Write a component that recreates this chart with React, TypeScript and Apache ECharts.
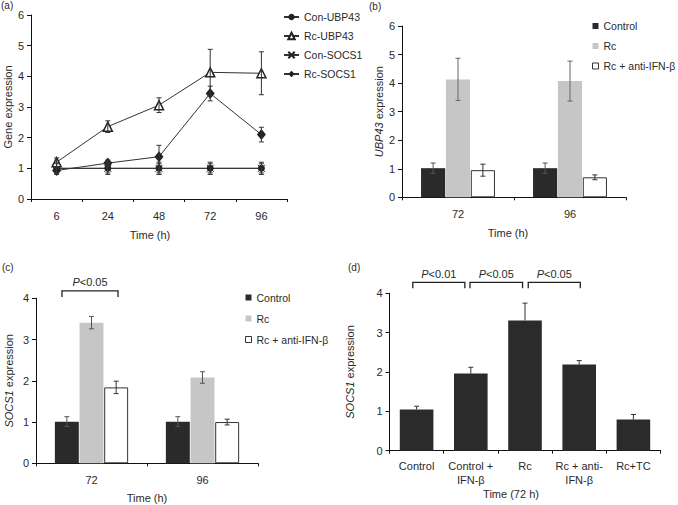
import React, { useEffect, useRef } from "react";
import * as echarts from "echarts";

// ---------- Data ----------
const timesA = ["6", "24", "48", "72", "96"];
const conUBP43 = [1, 1, 1, 1, 1];
const conUBP43Err = [0.15, 0.15, 0.15, 0.15, 0.15];
const rcUBP43 = [1.2, 2.36, 3.06, 4.13, 4.1];
const rcUBP43Err = [0.14, 0.19, 0.24, 0.75, 0.7];
const conSOCS1 = [1, 1, 1, 1, 1];
const conSOCS1Err = [0.2, 0.2, 0.2, 0.2, 0.2];
const rcSOCS1 = [0.93, 1.17, 1.38, 3.44, 2.1];
const rcSOCS1Err = [0.08, 0.1, 0.37, 0.24, 0.24];

const timesBC = ["72", "96"];
const ubpControl = [1.02, 1.02];
const ubpControlErr = [0.18, 0.18];
const ubpRc = [4.13, 4.07];
const ubpRcErr = [0.74, 0.7];
const ubpAnti = [0.95, 0.7];
const ubpAntiErr = [0.21, 0.085];

const socsControl = [1.01, 1.01];
const socsControlErr = [0.12, 0.12];
const socsRc = [3.41, 2.08];
const socsRcErr = [0.15, 0.14];
const socsAnti = [1.84, 1.0];
const socsAntiErr = [0.15, 0.07];

const groupsD = ["Control", "Control +\nIFN-β", "Rc", "Rc + anti-\nIFN-β", "Rc+TC"];
const socsD = [1.05, 1.96, 3.31, 2.19, 0.79];
const socsDErr = [0.08, 0.16, 0.44, 0.1, 0.13];

// significance brackets (span in category units relative to first category centre)
const bracketsC = [{ level: 4.18, bottom: 4.03, from: -0.266, to: 0.239, labelLevel: 4.4, text: "{i|P}<0.05" }];
const bracketsD = [
  { level: 4.28, bottom: 4.13, from: -0.07, to: 0.89, labelLevel: 4.49, text: "{i|P}<0.01" },
  { level: 4.28, bottom: 4.13, from: 0.985, to: 1.955, labelLevel: 4.49, text: "{i|P}<0.05" },
  { level: 4.28, bottom: 4.13, from: 2.06, to: 3.02, labelLevel: 4.49, text: "{i|P}<0.05" },
];

const FONT = "'Liberation Sans', Arial, Helvetica, sans-serif";
const TXT = "#2a2a2a";

function errRender(idx: number, n: number, gapR: number, catGapR: number, color: string, cap: number, upOnly: boolean) {
  return (params: any, api: any) => {
    const x = api.value(0);
    const v = api.value(1);
    const e = api.value(2);
    const base = api.coord([x, v]);
    const top = api.coord([x, v + e]);
    const bot = api.coord([x, v - e]);
    const W = api.size([1, 0])[0];
    let off = 0;
    if (n > 1) {
      const b = (W * (1 - catGapR)) / (n + (n - 1) * gapR);
      off = (idx - (n - 1) / 2) * b * (1 + gapR);
    }
    const cx = base[0] + off;
    const y2 = upOnly ? base[1] : bot[1];
    const st = { stroke: color, lineWidth: 1 };
    const children: any[] = [
      { type: "line", shape: { x1: cx, y1: top[1], x2: cx, y2 }, style: st },
      { type: "line", shape: { x1: cx - cap / 2, y1: top[1], x2: cx + cap / 2, y2: top[1] }, style: st },
    ];
    if (!upOnly) {
      children.push({ type: "line", shape: { x1: cx - cap / 2, y1: bot[1], x2: cx + cap / 2, y2: bot[1] }, style: st });
    }
    return { type: "group", children };
  };
}

function makeBracketRender(arr: any[]) {
  return (params: any, api: any) => {
    const b = arr[params.dataIndex];
    const c0 = api.coord([0, b.level]);
    const cb = api.coord([0, b.bottom]);
    const cl = api.coord([0, b.labelLevel]);
    const W = api.size([1, 0])[0];
    const x1 = c0[0] + b.from * W;
    const x2 = c0[0] + b.to * W;
    return {
      type: "group",
      children: [
        {
          type: "polyline",
          shape: { points: [[x1, cb[1]], [x1, c0[1]], [x2, c0[1]], [x2, cb[1]]] },
          style: { stroke: "#222", lineWidth: 1.3, fill: null },
        },
        {
          type: "text",
          x: (x1 + x2) / 2,
          y: cl[1],
          style: {
            text: b.text,
            fill: TXT,
            fontSize: 11,
            fontFamily: FONT,
            align: "center",
            verticalAlign: "middle",
            rich: { i: { fontStyle: "italic", fontSize: 11, fontFamily: FONT, fill: TXT } },
          },
        },
      ],
    };
  };
}

function catAxis(gridIndex: number, data: string[], name: string, nameGap: number, padRight: number, labelMargin: number) {
  return {
    type: "category",
    gridIndex,
    data,
    name,
    nameLocation: "middle",
    nameGap,
    nameTextStyle: { fontSize: 11, fontFamily: FONT, color: TXT, padding: [0, padRight, 0, 0] },
    axisLine: { lineStyle: { color: "#111", width: 1 } },
    axisTick: { show: true, length: 3, alignWithLabel: false, lineStyle: { color: "#111" } },
    axisLabel: { fontSize: 11, fontFamily: FONT, color: TXT, margin: labelMargin, interval: 0, lineHeight: 14 },
    splitLine: { show: false },
  };
}

function valAxis(gridIndex: number, max: number, name: string, nameGap: number) {
  return {
    type: "value",
    gridIndex,
    min: 0,
    max,
    interval: 1,
    name,
    nameLocation: "middle",
    nameGap,
    nameTextStyle: {
      fontSize: 11,
      fontFamily: FONT,
      color: TXT,
      rich: { i: { fontStyle: "italic", fontSize: 11, fontFamily: FONT, color: TXT } },
    },
    axisLine: { show: true, lineStyle: { color: "#111", width: 1 } },
    axisTick: { show: true, length: 4, lineStyle: { color: "#111" } },
    axisLabel: { fontSize: 11, fontFamily: FONT, color: TXT, margin: 7 },
    splitLine: { show: false },
  };
}

const toErr = (vals: number[], errs: number[]) => vals.map((v, i) => [i, v, errs[i]]);

export default function App() {
  const ref = useRef<HTMLDivElement>(null);
  useEffect(() => {
    if (!ref.current) return;
    const chart = echarts.init(ref.current, undefined, { renderer: "svg" });
    const crossPath = "path://M0,0L10,10M10,0L0,10";
    const lineStyleA = { color: "#333", width: 1 };
    const catGapBC = 0.34;
    const barGapBC = 0.03;
    const catGapD = 0.38;
    const whiteItem = { color: "#fff", borderColor: "#333", borderWidth: 1 };
    const barLegendData = [{ name: "Control" }, { name: "Rc" }, { name: "Rc + anti-IFN-β", itemStyle: whiteItem }];
    const titleStyle = { fontSize: 10, fontWeight: "normal", color: TXT, fontFamily: FONT };

    const option: any = {
      animation: false,
      backgroundColor: "#fff",
      textStyle: { fontFamily: FONT },
      title: [
        { text: "(a)", left: 1, top: 0, padding: 0, textStyle: titleStyle },
        { text: "(b)", left: 369, top: 1, padding: 0, textStyle: titleStyle },
        { text: "(c)", left: 2, top: 262, padding: 0, textStyle: titleStyle },
        { text: "(d)", left: 348, top: 262, padding: 0, textStyle: titleStyle },
      ],
      grid: [
        { left: 31, top: 15, width: 256, height: 184 },
        { left: 402, top: 26, width: 224, height: 171.3 },
        { left: 36, top: 298.3, width: 222, height: 165 },
        { left: 389.5, top: 293.3, width: 271, height: 157.4 },
      ],
      legend: [
        {
          orient: "vertical",
          left: 283,
          top: 11.5,
          padding: 0,
          itemWidth: 15,
          itemHeight: 8,
          itemGap: 8,
          textStyle: { fontSize: 10.5, fontFamily: FONT, color: TXT, lineHeight: 10 },
          data: ["Con-UBP43", "Rc-UBP43", "Con-SOCS1", "Rc-SOCS1"],
        },
        {
          orient: "vertical",
          left: 592,
          top: 20,
          padding: 0,
          itemWidth: 6,
          itemHeight: 6,
          itemGap: 8,
          icon: "rect",
          textStyle: { fontSize: 10.5, fontFamily: FONT, color: TXT, lineHeight: 12 },
          data: barLegendData,
        },
        {
          orient: "vertical",
          left: 245,
          top: 291.5,
          padding: 0,
          itemWidth: 6,
          itemHeight: 6,
          itemGap: 9,
          icon: "rect",
          textStyle: { fontSize: 10.5, fontFamily: FONT, color: TXT, lineHeight: 12 },
          data: barLegendData,
        },
      ],
      xAxis: [
        catAxis(0, timesA, "Time (h)", 30, 18, 10),
        catAxis(1, timesBC, "Time (h)", 30, 12, 10),
        catAxis(2, timesBC, "Time (h)", 29, 0, 10),
        catAxis(3, groupsD, "Time (72 h)", 38, 28, 8),
      ],
      yAxis: [
        valAxis(0, 6, "Gene expression", 17),
        valAxis(1, 6, "{i|UBP43} expression", 16),
        valAxis(2, 4, "{i|SOCS1} expression", 22),
        valAxis(3, 4, "{i|SOCS1} expression", 34),
      ],
      series: [
        // ---- (a) ----
        {
          name: "Con-UBP43", type: "line", xAxisIndex: 0, yAxisIndex: 0, data: conUBP43,
          symbol: "circle", symbolSize: 7, lineStyle: lineStyleA, itemStyle: { color: "#222" }, z: 3,
        },
        {
          name: "Rc-UBP43", type: "line", xAxisIndex: 0, yAxisIndex: 0, data: rcUBP43,
          symbol: "triangle", symbolSize: 9, lineStyle: lineStyleA,
          itemStyle: { color: "#fff", borderColor: "#222", borderWidth: 1.5 }, z: 4,
        },
        {
          name: "Con-SOCS1", type: "line", xAxisIndex: 0, yAxisIndex: 0, data: conSOCS1,
          symbol: crossPath, symbolSize: 7, lineStyle: lineStyleA,
          itemStyle: { color: "#222", borderColor: "#222", borderWidth: 1 }, z: 3,
        },
        {
          name: "Rc-SOCS1", type: "line", xAxisIndex: 0, yAxisIndex: 0, data: rcSOCS1,
          symbol: "diamond", symbolSize: [9, 11], lineStyle: lineStyleA, itemStyle: { color: "#222" }, z: 3,
        },
        { type: "custom", xAxisIndex: 0, yAxisIndex: 0, data: toErr(conUBP43, conUBP43Err), encode: { x: 0, y: 1 }, renderItem: errRender(0, 1, 0, 0, "#333", 5, false), z: 5 },
        { type: "custom", xAxisIndex: 0, yAxisIndex: 0, data: toErr(rcUBP43, rcUBP43Err), encode: { x: 0, y: 1 }, renderItem: errRender(0, 1, 0, 0, "#333", 5, false), z: 5 },
        { type: "custom", xAxisIndex: 0, yAxisIndex: 0, data: toErr(conSOCS1, conSOCS1Err), encode: { x: 0, y: 1 }, renderItem: errRender(0, 1, 0, 0, "#333", 5, false), z: 5 },
        { type: "custom", xAxisIndex: 0, yAxisIndex: 0, data: toErr(rcSOCS1, rcSOCS1Err), encode: { x: 0, y: 1 }, renderItem: errRender(0, 1, 0, 0, "#333", 5, false), z: 5 },

        // ---- (b) ----
        { name: "Control", type: "bar", xAxisIndex: 1, yAxisIndex: 1, data: ubpControl, itemStyle: { color: "#2a2a2a" }, barCategoryGap: "34%", barGap: "3%" },
        { name: "Rc", type: "bar", xAxisIndex: 1, yAxisIndex: 1, data: ubpRc, itemStyle: { color: "#c6c6c6" }, barCategoryGap: "34%", barGap: "3%" },
        { name: "Rc + anti-IFN-β", type: "bar", xAxisIndex: 1, yAxisIndex: 1, data: ubpAnti, itemStyle: whiteItem, barCategoryGap: "34%", barGap: "3%" },
        { type: "custom", xAxisIndex: 1, yAxisIndex: 1, data: toErr(ubpControl, ubpControlErr), encode: { x: 0, y: 1 }, renderItem: errRender(0, 3, barGapBC, catGapBC, "#555", 5, false), z: 5 },
        { type: "custom", xAxisIndex: 1, yAxisIndex: 1, data: toErr(ubpRc, ubpRcErr), encode: { x: 0, y: 1 }, renderItem: errRender(1, 3, barGapBC, catGapBC, "#666", 5, false), z: 5 },
        { type: "custom", xAxisIndex: 1, yAxisIndex: 1, data: toErr(ubpAnti, ubpAntiErr), encode: { x: 0, y: 1 }, renderItem: errRender(2, 3, barGapBC, catGapBC, "#333", 5, false), z: 5 },

        // ---- (c) ----
        { name: "Control", type: "bar", xAxisIndex: 2, yAxisIndex: 2, data: socsControl, itemStyle: { color: "#2a2a2a" }, barCategoryGap: "34%", barGap: "3%" },
        { name: "Rc", type: "bar", xAxisIndex: 2, yAxisIndex: 2, data: socsRc, itemStyle: { color: "#c6c6c6" }, barCategoryGap: "34%", barGap: "3%" },
        { name: "Rc + anti-IFN-β", type: "bar", xAxisIndex: 2, yAxisIndex: 2, data: socsAnti, itemStyle: whiteItem, barCategoryGap: "34%", barGap: "3%" },
        { type: "custom", xAxisIndex: 2, yAxisIndex: 2, data: toErr(socsControl, socsControlErr), encode: { x: 0, y: 1 }, renderItem: errRender(0, 3, barGapBC, catGapBC, "#555", 5, false), z: 5 },
        { type: "custom", xAxisIndex: 2, yAxisIndex: 2, data: toErr(socsRc, socsRcErr), encode: { x: 0, y: 1 }, renderItem: errRender(1, 3, barGapBC, catGapBC, "#555", 5, false), z: 5 },
        { type: "custom", xAxisIndex: 2, yAxisIndex: 2, data: toErr(socsAnti, socsAntiErr), encode: { x: 0, y: 1 }, renderItem: errRender(2, 3, barGapBC, catGapBC, "#333", 5, false), z: 5 },
        {
          type: "custom", xAxisIndex: 2, yAxisIndex: 2, data: bracketsC.map((b) => [0, b.level]), encode: { x: 0, y: 1 },
          renderItem: makeBracketRender(bracketsC), z: 6, clip: false, silent: true,
        },

        // ---- (d) ----
        { type: "bar", xAxisIndex: 3, yAxisIndex: 3, data: socsD, itemStyle: { color: "#2b2b2b" }, barCategoryGap: "38%" },
        { type: "custom", xAxisIndex: 3, yAxisIndex: 3, data: toErr(socsD, socsDErr), encode: { x: 0, y: 1 }, renderItem: errRender(0, 1, 0, catGapD, "#333", 5, true), z: 5 },
        {
          type: "custom", xAxisIndex: 3, yAxisIndex: 3, data: bracketsD.map((b) => [0, b.level]), encode: { x: 0, y: 1 },
          renderItem: makeBracketRender(bracketsD), z: 6, clip: false, silent: true,
        },
      ],
    };
    chart.setOption(option);
    return () => chart.dispose();
  }, []);
  return (
    <div
      ref={ref}
      style={{ position: "absolute", left: 0, top: 0, width: 678, height: 505, background: "#fff" }}
    />
  );
}
